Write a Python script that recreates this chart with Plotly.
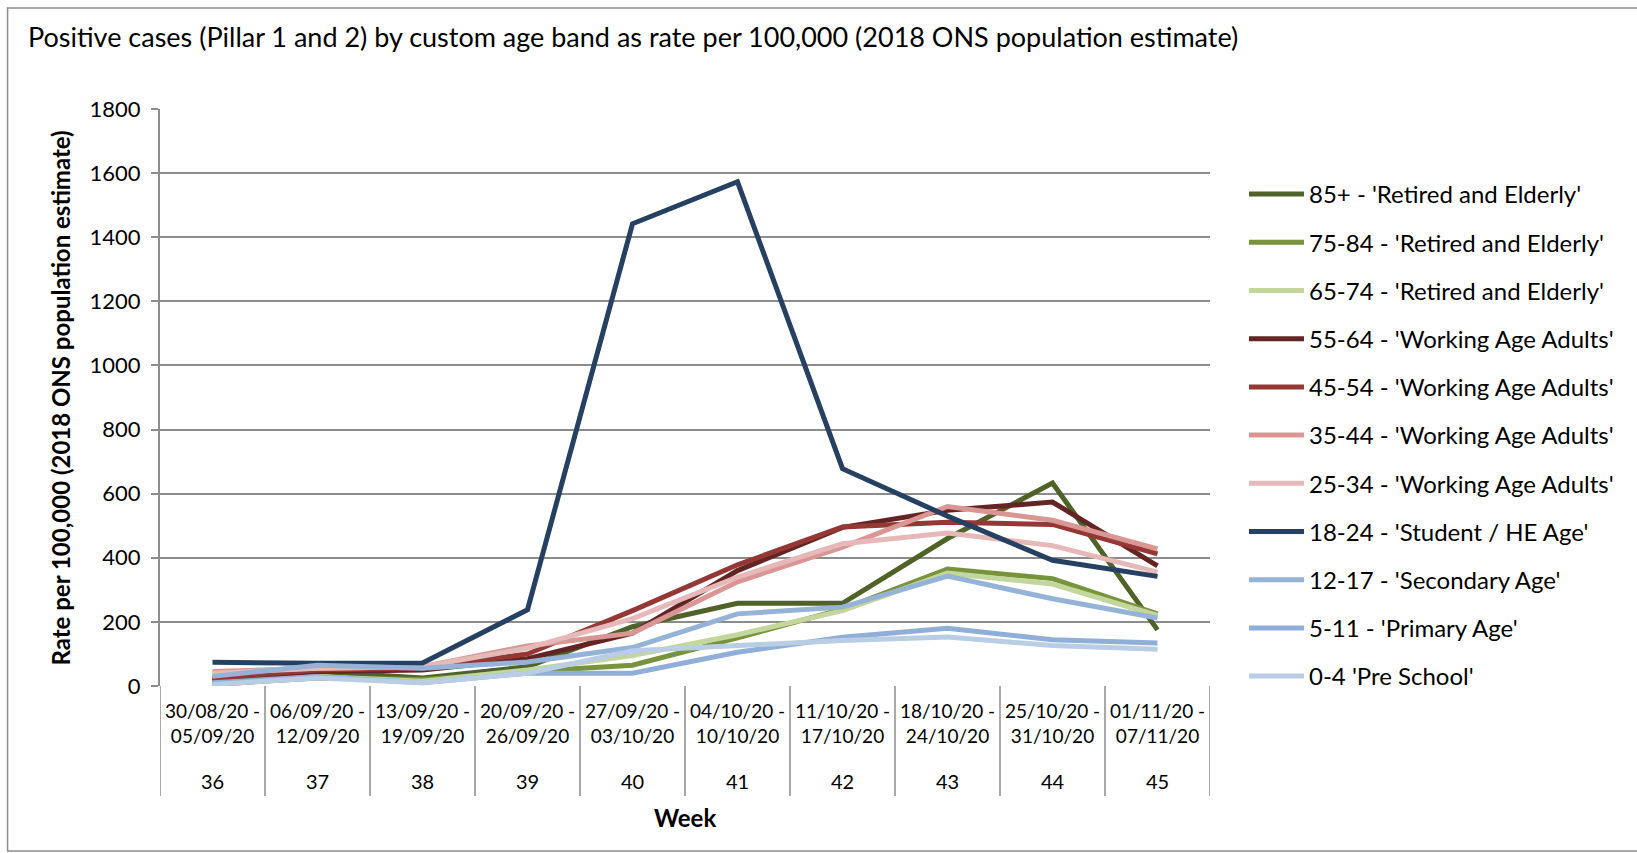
import plotly.graph_objects as go

# Week labels: date range (two lines) and ISO week number
date_ranges = ["30/08/20 -<br>05/09/20", "06/09/20 -<br>12/09/20", "13/09/20 -<br>19/09/20",
               "20/09/20 -<br>26/09/20", "27/09/20 -<br>03/10/20", "04/10/20 -<br>10/10/20",
               "11/10/20 -<br>17/10/20", "18/10/20 -<br>24/10/20", "25/10/20 -<br>31/10/20",
               "01/11/20 -<br>07/11/20"]
week_numbers = ["36", "37", "38", "39", "40", "41", "42", "43", "44", "45"]

# Rate per 100,000 by age band
age_85_plus = [15, 45, 25, 60, 185, 258, 258, 460, 633, 175]
age_75_84 = [5, 25, 20, 45, 65, 150, 240, 365, 335, 225]
age_65_74 = [10, 30, 15, 50, 95, 160, 235, 352, 318, 220]
age_55_64 = [20, 45, 50, 85, 165, 360, 495, 548, 574, 375]
age_45_54 = [25, 50, 55, 100, 235, 378, 496, 511, 504, 412]
age_35_44 = [45, 55, 60, 125, 165, 325, 433, 560, 517, 428]
age_25_34 = [40, 55, 60, 118, 210, 340, 444, 477, 438, 355]
age_18_24 = [74, 71, 72, 238, 1442, 1573, 678, 530, 392, 342]
age_12_17 = [30, 65, 55, 75, 120, 225, 246, 343, 272, 212]
age_5_11 = [10, 30, 10, 40, 40, 105, 152, 180, 144, 134]
age_0_4 = [5, 25, 10, 40, 110, 126, 142, 153, 126, 115]

series = [
    ("85+ - 'Retired and Elderly'", age_85_plus, "#4F6228"),
    ("75-84 - 'Retired and Elderly'", age_75_84, "#77933C"),
    ("65-74 - 'Retired and Elderly'", age_65_74, "#C3D69B"),
    ("55-64 - 'Working Age Adults'", age_55_64, "#632523"),
    ("45-54 - 'Working Age Adults'", age_45_54, "#953735"),
    ("35-44 - 'Working Age Adults'", age_35_44, "#D99694"),
    ("25-34 - 'Working Age Adults'", age_25_34, "#E6B9B8"),
    ("18-24 - 'Student / HE Age'", age_18_24, "#254061"),
    ("12-17 - 'Secondary Age'", age_12_17, "#95B3D7"),
    ("5-11 - 'Primary Age'", age_5_11, "#8FAFD8"),
    ("0-4 'Pre School'", age_0_4, "#B9CDE5"),
]

W, H = 1637, 853
L, R, T, B = 159.5, 1210, 109, 686  # plot area in pixels
pw, ph = R - L, B - T


def px_x(p):
    return (p - L) / pw


def px_y(p):
    return (B - p) / ph


FONT = "Lato, 'Open Sans', sans-serif"
GRID = "#8C8C8C"

cats = list(range(len(week_numbers)))

fig = go.Figure()
for i, (name, vals, col) in enumerate(series):
    fig.add_trace(go.Scatter(
        x=cats, y=vals, mode="lines", name=name,
        line=dict(color=col, width=5),
        legendgroup=f"g{i}",
    ))

# Category separators below the axis
shapes = []
for b in range(len(cats) + 1):
    shapes.append(dict(type="line", xref="x", yref="paper",
                       x0=b - 0.5, x1=b - 0.5, y0=0, y1=px_y(796),
                       line=dict(color=GRID, width=1.5)))
# Outer frame of the chart
shapes.append(dict(type="rect", xref="paper", yref="paper",
                   x0=px_x(7), x1=px_x(1645), y0=px_y(8), y1=px_y(851),
                   line=dict(color="#8C8C8C", width=1.5), layer="below"))

annotations = [
    dict(text="<b>Rate per 100,000 (2018 ONS population estimate)</b>",
         xref="paper", yref="paper", x=px_x(59), y=px_y(398),
         textangle=-90, showarrow=False, xanchor="center", yanchor="middle",
         font=dict(family=FONT, size=24)),
    dict(text="<b>Week</b>", xref="paper", yref="paper", x=px_x(685), y=px_y(817),
         showarrow=False, xanchor="center", yanchor="middle",
         font=dict(family=FONT, size=24)),
]
# Week-number row under the date ranges
for c, w in zip(cats, week_numbers):
    annotations.append(dict(text=w, xref="x", yref="paper", x=c, y=px_y(781),
                            showarrow=False, xanchor="center", yanchor="middle",
                            font=dict(family=FONT, size=20)))

fig.update_layout(
    width=W, height=H,
    margin=dict(l=L, r=W - R, t=T, b=H - B, pad=0),
    paper_bgcolor="white", plot_bgcolor="white",
    font=dict(family=FONT, color="#000000", size=20),
    title=dict(
        text="Positive cases (Pillar 1 and 2) by custom age band as rate per 100,000 (2018 ONS population estimate)",
        x=28 / W, xanchor="left", xref="container",
        y=1 - 38 / H, yanchor="middle", yref="container",
        font=dict(family=FONT, size=27, color="#000000"),
    ),
    xaxis=dict(
        range=[-0.5, len(cats) - 0.5], tickmode="array", tickvals=cats, ticktext=date_ranges,
        showgrid=False, zeroline=False, showline=False, ticks="",
        ticklabelstandoff=12,
        tickfont=dict(family=FONT, size=19), fixedrange=True,
    ),
    yaxis=dict(
        range=[0, 1800], dtick=200, showgrid=True, gridcolor=GRID, gridwidth=2,
        zeroline=False, showline=True, linecolor=GRID, linewidth=2,
        ticks="outside", ticklen=7, tickwidth=2, tickcolor=GRID,
        ticklabelstandoff=6, tickfont=dict(family=FONT, size=22), fixedrange=True,
    ),
    legend=dict(
        x=px_x(1244), xanchor="left", y=px_y(172), yanchor="top",
        font=dict(family=FONT, size=24), tracegroupgap=14,
        bgcolor="rgba(0,0,0,0)", itemwidth=55,
    ),
    shapes=shapes,
    annotations=annotations,
)

fig.write_html("out.html")
